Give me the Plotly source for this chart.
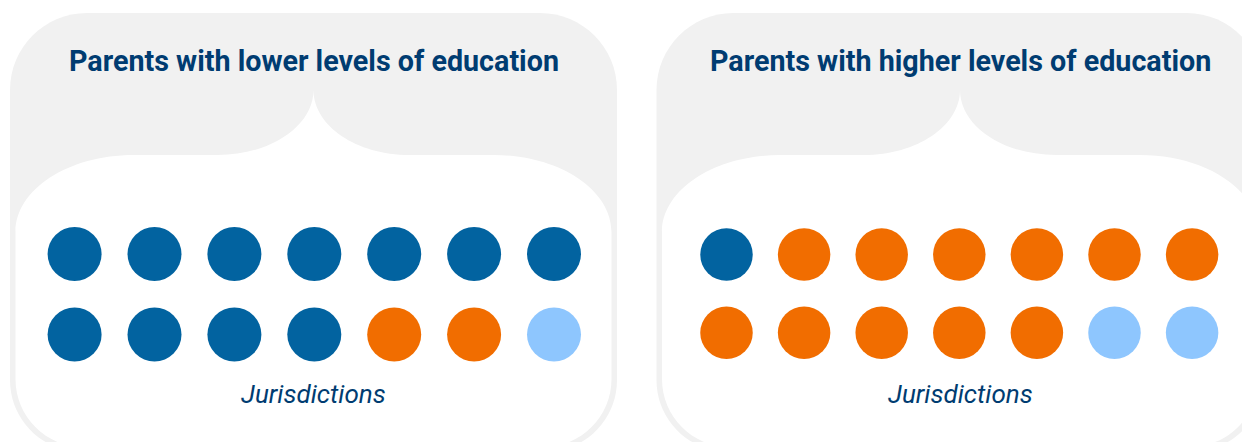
import plotly.graph_objects as go

W, H = 1250, 442
OFF = 8  # page margin around the plot div

# jurisdictions, read row by row (7 per row)
columns = [1, 2, 3, 4, 5, 6, 7] * 2
rows = [1] * 7 + [2] * 7
lower_ed = ["dark", "dark", "dark", "dark", "dark", "dark", "dark",
            "dark", "dark", "dark", "dark", "orange", "orange", "light"]
higher_ed = ["dark", "orange", "orange", "orange", "orange", "orange", "orange",
             "orange", "orange", "orange", "orange", "orange", "light", "light"]

panel_titles = ["Parents with lower levels of education",
                "Parents with higher levels of education"]
axis_label = "Jurisdictions"

palette = {"dark": "#0263a0", "orange": "#f16d00", "light": "#8ec6fe"}
NAVY = "#003c71"
GREY = "#f1f1f1"
K = 0.5523


def px(x, y):
    return "{:.5f},{:.5f}".format((x - OFF) / W, 1 - (y - OFF) / H)


def axis_range(first, step, size, reverse=False):
    # value 1 sits at page pixel `first`, one unit = `step` pixels
    lo = 1 - (first - OFF) / step
    hi = lo + size / step
    return [hi, lo] if reverse else [lo, hi]


def outer_path(cx):
    l, r, t, b = cx - 303.5, cx + 303.5, 13, 452
    rt, rb = 77, 72
    return ("M " + px(l, t + rt)
            + " C " + px(l, t + rt - K * rt) + " " + px(l + rt - K * rt, t) + " " + px(l + rt, t)
            + " L " + px(r - rt, t)
            + " C " + px(r - rt + K * rt, t) + " " + px(r, t + rt - K * rt) + " " + px(r, t + rt)
            + " L " + px(r, b - rb)
            + " C " + px(r, b - rb + K * rb) + " " + px(r - rb + K * rb, b) + " " + px(r - rb, b)
            + " L " + px(l + rb, b)
            + " C " + px(l + rb - K * rb, b) + " " + px(l, b - rb + K * rb) + " " + px(l, b - rb)
            + " Z")


def inner_path(cx):
    l, r, b = cx - 298, cx + 298, 447
    fy, sy, tip = 155, 232, 90
    crx, brx, rb = 118, 96, 68
    cry, bry = sy - fy, fy - tip
    return ("M " + px(l, sy)
            + " C " + px(l, sy - K * cry) + " " + px(l + crx - K * crx, fy) + " " + px(l + crx, fy)
            + " L " + px(cx - brx, fy)
            + " C " + px(cx - brx + K * brx, fy) + " " + px(cx, tip + K * bry) + " " + px(cx, tip)
            + " C " + px(cx, tip + K * bry) + " " + px(cx + brx - K * brx, fy) + " " + px(cx + brx, fy)
            + " L " + px(r - crx, fy)
            + " C " + px(r - crx + K * crx, fy) + " " + px(r, sy - K * cry) + " " + px(r, sy)
            + " L " + px(r, b - rb)
            + " C " + px(r, b - rb + K * rb) + " " + px(r - rb + K * rb, b) + " " + px(r - rb, b)
            + " L " + px(l + rb, b)
            + " C " + px(l + rb - K * rb, b) + " " + px(l, b - rb + K * rb) + " " + px(l, b - rb)
            + " Z")


centers = [313.5, 960]

fig = go.Figure()

fig.add_trace(go.Scatter(
    x=columns, y=rows, mode="markers", xaxis="x", yaxis="y",
    marker=dict(size=54, color=[palette[c] for c in lower_ed], line=dict(width=0)),
    hoverinfo="skip", showlegend=False))
fig.add_trace(go.Scatter(
    x=columns, y=rows, mode="markers", xaxis="x2", yaxis="y2",
    marker=dict(size=52.5, color=[palette[c] for c in higher_ed], line=dict(width=0)),
    hoverinfo="skip", showlegend=False))

shapes = []
for cx in centers:
    shapes.append(dict(type="path", path=outer_path(cx), xref="paper", yref="paper",
                       fillcolor=GREY, line=dict(width=0), layer="below"))
    shapes.append(dict(type="path", path=inner_path(cx), xref="paper", yref="paper",
                       fillcolor="white", line=dict(width=0), layer="below"))

annotations = []
for cx, title in zip(centers, panel_titles):
    annotations.append(dict(text="<b>" + title + "</b>", x=(cx - OFF) / W, y=1 - (61 - OFF) / H,
                            xref="paper", yref="paper", xanchor="center", yanchor="middle",
                            showarrow=False,
                            font=dict(family="Roboto", size=28.7, color=NAVY)))
    annotations.append(dict(text="<i>" + axis_label + "</i>", x=(cx - OFF) / W, y=1 - (394 - OFF) / H,
                            xref="paper", yref="paper", xanchor="center", yanchor="middle",
                            showarrow=False,
                            font=dict(family="Roboto", size=26, color=NAVY)))

hidden = dict(visible=False, showgrid=False, zeroline=False, fixedrange=True)

fig.update_layout(
    width=W, height=H,
    margin=dict(l=0, r=0, t=0, b=0),
    paper_bgcolor="white",
    plot_bgcolor="rgba(0,0,0,0)",
    shapes=shapes,
    annotations=annotations,
    hovermode=False,
    xaxis=dict(hidden, domain=[0, 1], range=axis_range(74.6, 79.9, W)),
    xaxis2=dict(hidden, domain=[0, 1], range=axis_range(726.5, 77.6, W), overlaying="x"),
    yaxis=dict(hidden, domain=[0, 1], range=axis_range(254, 80.5, H, reverse=True)),
    yaxis2=dict(hidden, domain=[0, 1], range=axis_range(254.6, 78.2, H, reverse=True), overlaying="y"),
)

fig.write_html("out.html")
